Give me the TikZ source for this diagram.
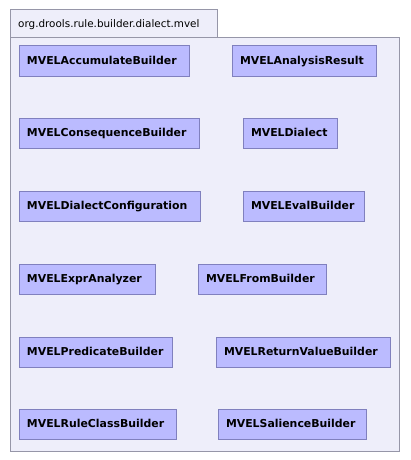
\documentclass[tikz,border=0pt]{standalone}
\usepackage{fontspec}
\setmainfont{DejaVu Sans}
\definecolor{pkgfill}{RGB}{238,238,250}
\definecolor{pkgline}{RGB}{150,150,168}
\definecolor{clsfill}{RGB}{187,187,255}
\definecolor{clsline}{RGB}{128,128,190}
\def\boxh{30}
\tikzset{
  pkgbox/.style={draw=pkgline, fill=pkgfill, line width=1pt, anchor=north west, inner sep=0pt, outer sep=0pt},
  classbox/.style={draw=clsline, fill=clsfill, line width=1pt, anchor=north west,
    minimum height=\boxh pt, inner xsep=8pt, inner ysep=0pt, outer sep=0pt,
    text height=8pt, text depth=2pt,
    text width=#1, align=left, font=\fontsize{10.9}{12}\selectfont\bfseries},
}
\begin{document}
\begin{tikzpicture}[x=1pt,y=-1pt]
\useasboundingbox (0,0) rectangle (410,460);

% package tab and body
\node[pkgbox, minimum width=207pt, minimum height=28pt] (tab) at (10,10) {};
\node[anchor=west, inner sep=0pt, font=\fontsize{10.4}{12}\selectfont] (pkgname) at (18,24.5) {org.drools.rule.builder.dialect.mvel};
\node[pkgbox, minimum width=389pt, minimum height=413pt] (pkg) at (10,38) {};

% classes
\foreach \n/\x/\y/\w in {AccumulateBuilder/19/46/154, AnalysisResult/232/46/128,
    ConsequenceBuilder/19/118/164, Dialect/243/118/78,
    DialectConfiguration/19/191/165, EvalBuilder/243/191/105,
    ExprAnalyzer/19/264/120, FromBuilder/198/264/112,
    PredicateBuilder/19/337/137, ReturnValueBuilder/216/337/158,
    RuleClassBuilder/19/409/141, SalienceBuilder/218/409/132}{
  \node[classbox=\w pt] (\n) at (\x,\y) {MVEL\n};
}

\end{tikzpicture}
\end{document}
